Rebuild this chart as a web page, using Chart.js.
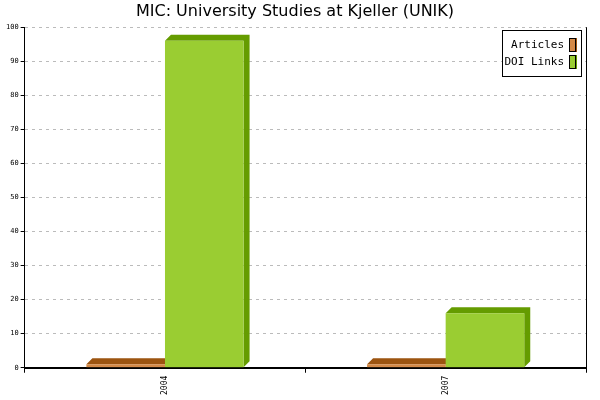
<!DOCTYPE html>
<html><head><meta charset="utf-8">
<script src="https://cdn.jsdelivr.net/npm/chart.js@4/dist/chart.umd.min.js"></script>
<style>body{margin:0;background:#fff}</style>
</head><body><canvas id="c" width="600" height="400"></canvas>
<script>
const categories = ['2004', '2007'];
const articles = [1, 1];
const doiLinks = [96, 16];
const yTicks = [0, 10, 20, 30, 40, 50, 60, 70, 80, 90, 100];

const DEPTH = 6;
// efecto 3D de las barras
const bars3d = {
  id: 'bars3d',
  beforeDatasetsDraw(chart) {
    const ctx = chart.ctx;
    chart.data.datasets.forEach((ds, i) => {
      chart.getDatasetMeta(i).data.forEach(b => {
        const l = b.x - b.width / 2, r = b.x + b.width / 2, t = b.y, bot = b.base;
        ctx.fillStyle = ds.sideColor;
        ctx.beginPath();
        ctx.moveTo(l, t); ctx.lineTo(l + DEPTH, t - DEPTH); ctx.lineTo(r + DEPTH, t - DEPTH);
        ctx.lineTo(r + DEPTH, bot - DEPTH); ctx.lineTo(r, bot); ctx.lineTo(r, t); ctx.closePath();
        ctx.fill();
      });
    });
  },
  afterDraw(chart) {
    const ctx = chart.ctx, a = chart.chartArea;
    ctx.save();
    ctx.strokeStyle = '#000'; ctx.lineWidth = 1;
    ctx.beginPath(); ctx.moveTo(a.right + 0.5, a.top); ctx.lineTo(a.right + 0.5, a.bottom); ctx.stroke();
    // leyenda
    const lx = 502, ly = 30, lw = 79, lh = 46;
    ctx.fillStyle = '#fff'; ctx.fillRect(lx, ly, lw, lh);
    ctx.strokeRect(lx + 0.5, ly + 0.5, lw, lh);
    ctx.font = '11px "DejaVu Sans Mono", monospace';
    ctx.textAlign = 'right'; ctx.textBaseline = 'middle';
    chart.data.datasets.forEach((ds, i) => {
      const y = ly + 15 + i * 17;
      ctx.fillStyle = '#000';
      ctx.fillText(ds.label, lx + 62, y);
      ctx.fillStyle = ds.sideColor; ctx.fillRect(lx + 68, y - 7, 7, 14);
      ctx.fillStyle = ds.backgroundColor; ctx.fillRect(lx + 67, y - 6, 6, 13);
      ctx.strokeStyle = '#000'; ctx.strokeRect(lx + 67.5, y - 6.5, 6, 13);
    });
    ctx.restore();
  }
};

new Chart(document.getElementById('c'), {
  type: 'bar',
  data: {
    labels: categories,
    datasets: [
      { label: 'Articles', data: articles, backgroundColor: '#d48a48', sideColor: '#9c5410', categoryPercentage: 0.56, barPercentage: 1 },
      { label: 'DOI Links', data: doiLinks, backgroundColor: '#9acd32', sideColor: '#659c00', categoryPercentage: 0.56, barPercentage: 1 }
    ]
  },
  options: {
    responsive: false, animation: false,
    layout: { padding: { left: 4, right: 14, top: 0, bottom: 2 } },
    plugins: {
      legend: { display: false }, tooltip: { enabled: false },
      title: { display: true, text: 'MIC: University Studies at Kjeller (UNIK)', color: '#000',
        font: { family: 'DejaVu Sans', size: 16, weight: 'normal' }, padding: { top: 2, bottom: 6 } }
    },
    scales: {
      x: {
        offset: true,
        grid: { offset: true, drawOnChartArea: false, color: '#000', tickLength: 5 },
        border: { color: '#000', width: 2 },
        ticks: { color: '#000', minRotation: 90, maxRotation: 90, font: { family: 'DejaVu Sans Mono', size: 8 } }
      },
      y: {
        min: 0, max: 100, afterBuildTicks: ax => { ax.ticks = yTicks.map(v => ({ value: v })); },
        grid: { color: '#bbb', tickLength: 4, tickColor: '#000' },
        border: { color: '#000', dash: [3, 4] },
        ticks: { color: '#000', padding: 2, autoSkip: false, font: { family: 'DejaVu Sans Mono', size: 7 } }
      }
    }
  },
  plugins: [bars3d]
});
</script></body></html>
